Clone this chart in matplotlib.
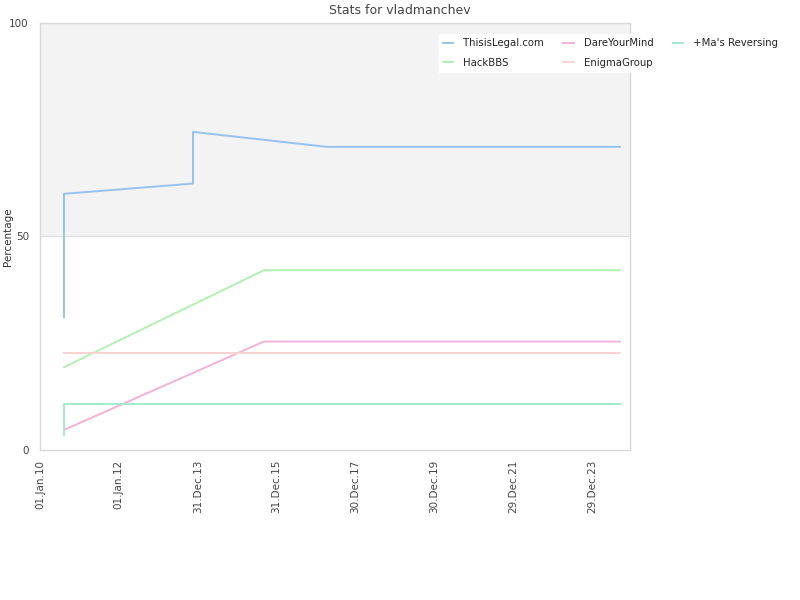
import numpy as np
import pandas as pd
import matplotlib
matplotlib.use("Agg")
import matplotlib.pyplot as plt
import matplotlib.dates as mdates

# series (date, percentage)
thisislegal_dates = ["2010-08-11", "2010-08-11", "2013-11-17", "2013-11-17", "2017-04-09", "2024-09-11"]
thisislegal_vals = [31.1, 60.0, 62.4, 74.5, 71.0, 71.0]

hackbbs_dates = ["2010-08-11", "2015-09-05", "2024-09-11"]
hackbbs_vals = [19.4, 42.1, 42.1]

dareyourmind_dates = ["2010-08-11", "2015-09-05", "2024-09-11"]
dareyourmind_vals = [4.7, 25.4, 25.4]

enigmagroup_dates = ["2010-08-11", "2024-09-11"]
enigmagroup_vals = [22.8, 22.8]

mas_dates = ["2010-08-11", "2010-08-11", "2024-09-11"]
mas_vals = [3.5, 10.8, 10.8]

series = [
    ("ThisisLegal.com", thisislegal_dates, thisislegal_vals, "#95c2ee"),
    ("HackBBS", hackbbs_dates, hackbbs_vals, "#b3f0b0"),
    ("DareYourMind", dareyourmind_dates, dareyourmind_vals, "#f2b2d8"),
    ("EnigmaGroup", enigmagroup_dates, enigmagroup_vals, "#f8d2d0"),
    ("+Ma's Reversing", mas_dates, mas_vals, "#a0eccc"),
]

tick_dates = pd.date_range("2010-01-01", periods=8, freq="730D")
y_ticks = [0, 50, 100]

fig = plt.figure(figsize=(8, 6), dpi=100)
ax = fig.add_axes([40 / 800, 150 / 600, 590 / 800, 427 / 600])

ax.axhspan(50, 100, color="#f3f3f3", zorder=0, lw=0)
ax.axhline(50, color="#e0e0e0", lw=1, zorder=1)

handles = []
for name, d, v, c in series:
    h, = ax.plot(pd.to_datetime(d), v, color=c, lw=1.4, label=name, zorder=3)
    handles.append(h)

ax.set_ylim(0, 100)
ax.set_xlim(tick_dates[0], pd.Timestamp("2024-12-14"))
ax.set_yticks(y_ticks)
ax.set_xticks(tick_dates)
ax.xaxis.set_major_formatter(mdates.DateFormatter("%d.%b.%y"))
ax.tick_params(axis="both", length=0, labelsize=7.5, colors="#444444", pad=8)
ax.tick_params(axis="x", labelrotation=90, pad=7)
for s in ax.spines.values():
    s.set_color("#d8d8d8")
    s.set_linewidth(1)

ax.set_ylabel("Percentage", fontsize=7.5, color="#333333")
ax.yaxis.set_label_coords(-0.045, 0.5)
fig.text(400 / 800, 1 - 11 / 600, "Stats for vladmanchev", ha="center", va="center",
         fontsize=9, color="#444444")

leg = fig.legend(handles=handles, ncol=3, loc="upper left",
                 bbox_to_anchor=(434 / 800, 1 - 29 / 600), fontsize=7.3,
                 frameon=True, fancybox=False, framealpha=1, handlelength=1.0,
                 handletextpad=1.0, columnspacing=1.9, labelspacing=0.95, borderpad=0.4)
leg.get_frame().set_facecolor("white")
leg.get_frame().set_edgecolor("white")
for t in leg.get_texts():
    t.set_color("#222222")

fig.savefig("out.png", dpi=100)
